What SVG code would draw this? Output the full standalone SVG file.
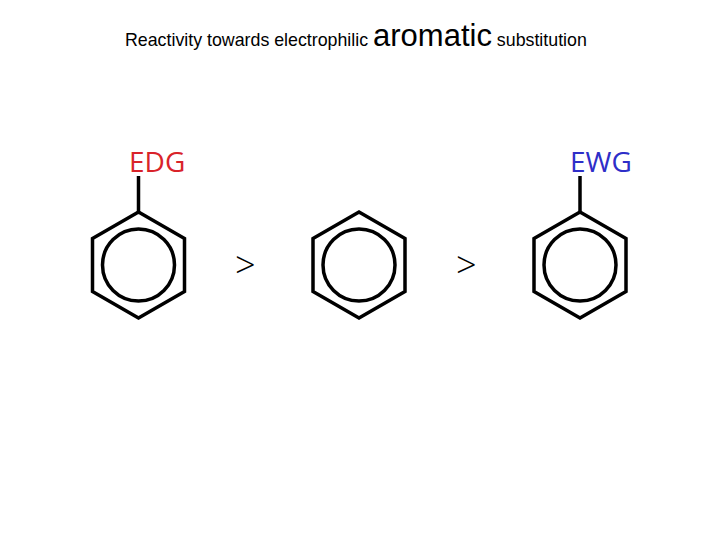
<svg xmlns="http://www.w3.org/2000/svg" width="720" height="540" viewBox="0 0 720 540">
<style>
.r{fill:none;stroke:#000;stroke-width:3.5;stroke-linejoin:miter}
.t{font-family:"Liberation Sans",Arial,sans-serif;fill:#000}
.l{font-family:"Open Sans","DejaVu Sans",sans-serif;font-size:28px}
.g{font-family:"Open Sans","DejaVu Sans",sans-serif;font-size:36px;font-weight:300}
</style>
<defs>
<g id="benz"><polygon class="r" points="0,-53 46,-26.5 46,26.5 0,53 -46,26.5 -46,-26.5"/><circle class="r" r="36"/></g>
</defs>
<rect width="720" height="540" fill="#fff"/>
<text class="t" x="125" y="46" font-size="17.8">Reactivity towards electrophilic <tspan font-size="31">aromatic</tspan> substitution</text>
<g id="edg-benzene"><use href="#benz" x="138.5" y="265"/><line class="r" x1="138.5" y1="212" x2="138.5" y2="176"/><text class="l" x="129" y="172" fill="#d9232a">EDG</text></g>
<g id="benzene"><use href="#benz" x="359" y="265"/></g>
<g id="ewg-benzene"><use href="#benz" x="580" y="265"/><line class="r" x1="580" y1="212" x2="580" y2="176"/><text class="l" x="570" y="172" fill="#2e2ec8">EWG</text></g>
<g id="connectors">
<text class="g" x="235" y="278" fill="#000">&gt;</text>
<text class="g" x="456" y="278" fill="#000">&gt;</text>
</g>
</svg>
